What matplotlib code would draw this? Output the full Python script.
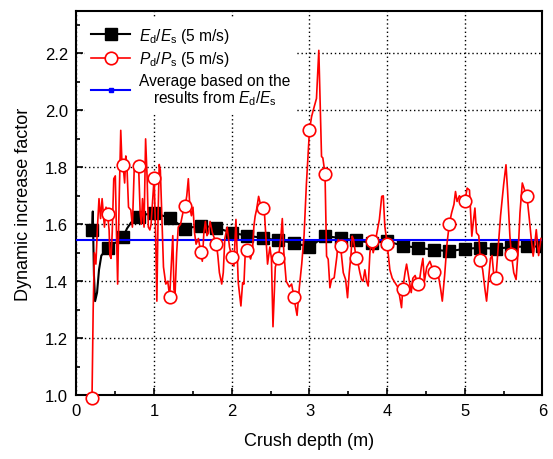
import numpy as np
import matplotlib
matplotlib.use('Agg')
import matplotlib.pyplot as plt
from matplotlib.lines import Line2D
from matplotlib.ticker import MultipleLocator

plt.rcParams['font.family'] = ['Liberation Sans', 'DejaVu Sans']
plt.rcParams['mathtext.fontset'] = 'custom'
plt.rcParams['mathtext.rm'] = 'Liberation Sans'
plt.rcParams['mathtext.it'] = 'Liberation Sans:italic'

# Ed/Es (5 m/s), black squares
ed_x = [0.20, 0.21, 0.225, 0.24, 0.265, 0.29, 0.32, 0.35, 0.40, 0.45, 0.50, 0.55, 0.60,
        0.65, 0.70, 0.75, 0.80, 0.90, 1.00, 1.20, 1.40, 1.60, 1.80, 2.00, 2.20, 2.40,
        2.60, 2.80, 3.00, 3.20, 3.40, 3.60, 3.80, 4.00, 4.20, 4.40, 4.60, 4.80, 5.00,
        5.20, 5.40, 5.60, 5.80, 6.00]
ed_y = [1.58, 1.645, 1.42, 1.33, 1.36, 1.44, 1.49, 1.50, 1.517, 1.53, 1.535, 1.54, 1.554,
        1.585, 1.605, 1.62, 1.626, 1.635, 1.64, 1.622, 1.585, 1.595, 1.588, 1.57, 1.56, 1.552,
        1.543, 1.535, 1.52, 1.558, 1.552, 1.543, 1.535, 1.54, 1.525, 1.517, 1.511, 1.505, 1.514,
        1.517, 1.514, 1.52, 1.522, 1.522]

# Pd/Ps (5 m/s), red open circles
pd_x = [0.20, 0.215, 0.23, 0.25, 0.27, 0.29, 0.31, 0.33, 0.36, 0.38,
        0.40, 0.42, 0.43, 0.445, 0.46, 0.48, 0.50, 0.515, 0.53, 0.55, 0.57, 0.585,
        0.60, 0.62, 0.635, 0.65, 0.67, 0.70, 0.72, 0.745, 0.765,
        0.80, 0.82, 0.835, 0.85, 0.87, 0.89, 0.91, 0.925, 0.945, 0.96,
        1.00, 1.02, 1.035, 1.05, 1.065, 1.08, 1.10, 1.12, 1.15, 1.175,
        1.20, 1.22, 1.24, 1.255, 1.27, 1.29, 1.31, 1.34, 1.37,
        1.40, 1.42, 1.44, 1.46, 1.48, 1.50, 1.52, 1.54, 1.57,
        1.60, 1.62, 1.64, 1.66, 1.68, 1.70, 1.72, 1.75,
        1.80, 1.82, 1.84, 1.87, 1.89, 1.91, 1.94, 1.97,
        2.00, 2.027, 2.053, 2.083, 2.117, 2.139, 2.156, 2.173,
        2.20, 2.242, 2.267, 2.284, 2.30, 2.319, 2.345, 2.37,
        2.40, 2.42, 2.44, 2.46, 2.49, 2.51, 2.53, 2.56,
        2.60, 2.63, 2.65, 2.67, 2.70, 2.72, 2.74, 2.77,
        2.80, 2.82, 2.84, 2.87, 2.90, 2.93, 2.96,
        3.00, 3.027, 3.048, 3.09, 3.12, 3.138, 3.155, 3.172,
        3.20, 3.22, 3.241, 3.263, 3.284, 3.318, 3.353, 3.37,
        3.40, 3.435, 3.465, 3.49, 3.512, 3.533, 3.55, 3.567,
        3.60, 3.62, 3.649, 3.67, 3.69, 3.713, 3.735, 3.756, 3.778,
        3.80, 3.82, 3.84, 3.86, 3.90, 3.93, 3.95, 3.97,
        4.00, 4.035, 4.065, 4.10, 4.142, 4.185,
        4.20, 4.23, 4.25, 4.28, 4.31, 4.33, 4.36,
        4.40, 4.42, 4.44, 4.46, 4.48, 4.51, 4.55,
        4.60, 4.63, 4.66, 4.69, 4.71, 4.74, 4.77,
        4.80, 4.83, 4.86, 4.88, 4.90, 4.93, 4.96,
        5.00, 5.03, 5.06, 5.09, 5.11, 5.13, 5.15, 5.18,
        5.20, 5.23, 5.26, 5.28, 5.31, 5.33, 5.35, 5.37,
        5.40, 5.43, 5.46, 5.50, 5.53, 5.55, 5.58,
        5.60, 5.63, 5.66, 5.69, 5.71, 5.74, 5.77,
        5.80, 5.83, 5.855, 5.88, 5.90, 5.92, 5.95, 5.98]
pd_y = [0.99, 1.30, 1.50, 1.46, 1.59, 1.69, 1.62, 1.69, 1.59, 1.66,
        1.636, 1.58, 1.49, 1.48, 1.57, 1.76, 1.77, 1.57, 1.39, 1.69, 1.93, 1.82,
        1.809, 1.745, 1.84, 1.80, 1.66, 1.65, 1.59, 1.81, 1.82,
        1.803, 1.64, 1.60, 1.69, 1.59, 1.90, 1.76, 1.59, 1.58, 1.60,
        1.764, 1.55, 1.33, 1.62, 1.81, 1.79, 1.62, 1.45, 1.39, 1.40,
        1.346, 1.45, 1.56, 1.37, 1.36, 1.50, 1.59, 1.60, 1.64,
        1.665, 1.70, 1.76, 1.66, 1.63, 1.66, 1.57, 1.53, 1.55,
        1.502, 1.47, 1.57, 1.61, 1.56, 1.57, 1.61, 1.57,
        1.532, 1.49, 1.43, 1.39, 1.43, 1.55, 1.59, 1.52,
        1.484, 1.453, 1.617, 1.395, 1.313, 1.395, 1.39, 1.50,
        1.509, 1.478, 1.511, 1.593, 1.628, 1.652, 1.698, 1.669,
        1.657, 1.64, 1.55, 1.46, 1.52, 1.48, 1.24, 1.45,
        1.482, 1.55, 1.62, 1.50, 1.40, 1.39, 1.38, 1.39,
        1.344, 1.31, 1.28, 1.38, 1.46, 1.56, 1.74,
        1.931, 1.978, 2.00, 2.042, 2.211, 2.012, 1.838, 1.833,
        1.777, 1.488, 1.477, 1.377, 1.406, 1.412, 1.488, 1.546,
        1.523, 1.43, 1.406, 1.342, 1.43, 1.488, 1.558, 1.546,
        1.483, 1.47, 1.43, 1.406, 1.40, 1.44, 1.40, 1.383, 1.50,
        1.542, 1.50, 1.523, 1.558, 1.617, 1.698, 1.70, 1.593,
        1.531, 1.44, 1.411, 1.395, 1.377, 1.307,
        1.371, 1.43, 1.46, 1.41, 1.36, 1.41, 1.42,
        1.389, 1.41, 1.45, 1.48, 1.40, 1.45, 1.47,
        1.432, 1.43, 1.42, 1.37, 1.33, 1.42, 1.53,
        1.601, 1.64, 1.67, 1.715, 1.68, 1.70, 1.69,
        1.68, 1.727, 1.72, 1.558, 1.61, 1.657, 1.57, 1.56,
        1.473, 1.44, 1.37, 1.33, 1.42, 1.48, 1.49, 1.43,
        1.41, 1.52, 1.63, 1.74, 1.809, 1.72, 1.56,
        1.494, 1.43, 1.406, 1.52, 1.64, 1.745, 1.72,
        1.698, 1.62, 1.55, 1.488, 1.53, 1.581, 1.49, 1.55]

avg_x = [0.0, 6.0]
avg_y = [1.545, 1.545]


def every_02(x):
    x = np.asarray(x)
    return [int(i) for i in np.where(np.isclose(np.round(x / 0.2) * 0.2, x))[0]]


fig = plt.figure(figsize=(5.53, 4.60), dpi=100)
ax = fig.add_axes([0.1383, 0.139, 0.8427, 0.8354])

ax.plot(ed_x, ed_y, color='black', lw=1.5, marker='s', ms=8.5,
        markevery=every_02(ed_x), zorder=3)
ax.plot(avg_x, avg_y, color='blue', lw=1.5, zorder=4)
ax.plot(pd_x, pd_y, color='red', lw=1.2, marker='o', ms=9, mfc='white',
        mec='red', mew=1.2, markevery=every_02(pd_x), clip_on=False, zorder=5)

ax.set_xlim(0, 6)
ax.set_ylim(1.0, 2.35)
ax.xaxis.set_major_locator(MultipleLocator(1))
ax.xaxis.set_minor_locator(MultipleLocator(0.5))
ax.yaxis.set_major_locator(MultipleLocator(0.2))
ax.yaxis.set_minor_locator(MultipleLocator(0.1))
ax.yaxis.set_major_formatter(plt.FuncFormatter(lambda v, p: f'{v:.1f}'))
ax.tick_params(which='both', direction='in', labelsize=12, width=1.2, pad=6)
ax.tick_params(which='major', length=5)
ax.tick_params(which='minor', length=3)
for s in ax.spines.values():
    s.set_linewidth(1.5)

ax.grid(True, which='major', color='black', linestyle=(0, (1, 2)), linewidth=1.0)
ax.set_axisbelow(True)

ax.set_xlabel('Crush depth (m)', fontsize=13, labelpad=10)
ax.set_ylabel('Dynamic increase factor', fontsize=13, labelpad=9)

handles = [
    Line2D([], [], color='black', lw=1.5, marker='s', ms=8.5),
    Line2D([], [], color='red', lw=1.2, marker='o', ms=9, mfc='white', mec='red', mew=1.2),
    Line2D([], [], color='blue', lw=1.5, marker='s', ms=3),
]
labels = [r'$E_\mathrm{d}$/$E_\mathrm{s}$ (5 m/s)',
          r'$P_\mathrm{d}$/$P_\mathrm{s}$ (5 m/s)',
          'Average based on the\nresults from $E_\\mathrm{d}$/$E_\\mathrm{s}$']
leg = ax.legend(handles, labels, loc='upper left', fontsize=11.2, frameon=True,
                fancybox=False, framealpha=1, handlelength=2.5, handletextpad=0.6,
                labelspacing=0.3, borderaxespad=0.55, borderpad=0.4)
leg.get_frame().set_linewidth(0)
for t in leg.get_texts():
    t.set_multialignment('center')
    t.set_linespacing(1.0)

fig.savefig('out.png', dpi=100)
